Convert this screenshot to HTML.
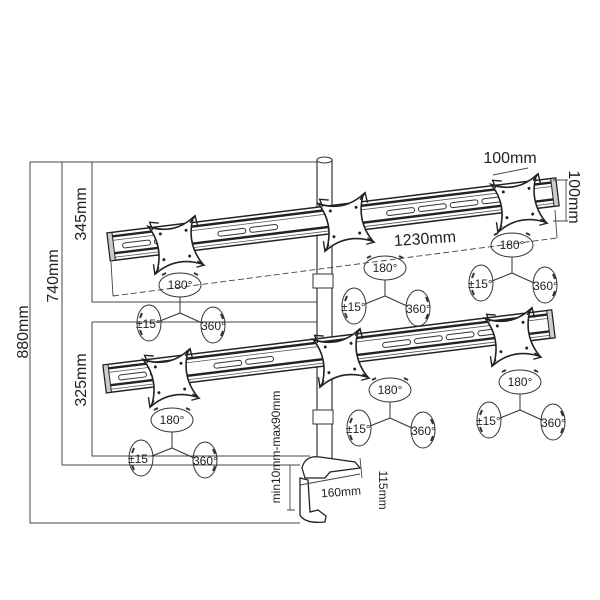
<!DOCTYPE html>
<html><head><meta charset="utf-8"><style>
html,body{margin:0;padding:0;background:#fff;}
svg{display:block;font-family:"Liberation Sans",sans-serif;}
</style></head><body>
<svg width="600" height="600" viewBox="0 0 600 600" xmlns="http://www.w3.org/2000/svg">
<defs>
 <g id="bar">
  <rect x="0" y="0" width="452" height="28" fill="#fff" stroke="#222" stroke-width="1.5"/>
  <line x1="0" y1="4" x2="452" y2="4" stroke="#222" stroke-width="2.4"/>
  <line x1="0" y1="8" x2="452" y2="8" stroke="#555" stroke-width="0.8"/>
  <line x1="0" y1="21" x2="452" y2="21" stroke="#222" stroke-width="2.4"/>
  <line x1="0" y1="25" x2="452" y2="25" stroke="#555" stroke-width="0.8"/>
  <rect x="0" y="0" width="5" height="28" fill="#ccc" stroke="#222"/>
  <rect x="447" y="0" width="5" height="28" fill="#ccc" stroke="#222"/>
  <g fill="none" stroke="#333" stroke-width="1">
   <rect x="14" y="12" width="28" height="5" rx="2.5"/><rect x="46" y="12" width="28" height="5" rx="2.5"/>
   <rect x="110" y="12" width="28" height="5" rx="2.5"/><rect x="142" y="12" width="28" height="5" rx="2.5"/>
   <rect x="280" y="12" width="28" height="5" rx="2.5"/><rect x="312" y="12" width="28" height="5" rx="2.5"/>
   <rect x="344" y="12" width="28" height="5" rx="2.5"/><rect x="376" y="12" width="28" height="5" rx="2.5"/>
  </g>
 </g>
 <g id="plate">
  <path d="M-24,-22 Q0,-10 22,-25 Q11,0 25,23 Q0,11 -22,25 Q-11,0 -24,-22 Z" fill="#fff" stroke="#222" stroke-width="1.6"/>
  <path d="M-20,-18 L-22,-26 L-13,-24 M18,-20 L24,-26 L25,-16 M20,19 L26,24 L18,25 M-19,20 L-24,26 L-24,16" fill="none" stroke="#222" stroke-width="1.4"/>
  <circle cx="-13" cy="-13" r="1.5" fill="#222"/><circle cx="13" cy="-13" r="1.5" fill="#222"/>
  <circle cx="13" cy="13" r="1.5" fill="#222"/><circle cx="-13" cy="13" r="1.5" fill="#222"/>
 </g>
 <g id="rot" fill="none" stroke="#333" stroke-width="1">
  <ellipse cx="0" cy="0" rx="21" ry="12"/>
  <path d="M-14,-12 l-4,2 M14,-12 l4,2" stroke-width="2"/>
  <path d="M0,12 L0,28 L-20,36 M0,28 L22,38"/>
  <ellipse cx="-31" cy="38" rx="12" ry="18"/>
  <ellipse cx="33" cy="40" rx="12" ry="18"/>
  <path d="M-38,28 l-2,5 M-38,50 l-2,-5 M41,29 l2,5 M41,51 l2,-5" stroke-width="2"/>
 </g>
</defs>

<g fill="none" stroke="#444" stroke-width="1">
 <path d="M30,162 L320,162 M30,162 L30,523 L300,523"/>
 <path d="M62,162 L62,465 L300,465"/>
 <path d="M92,162 L92,302 L318,302"/>
 <path d="M92,322 L318,322 M92,322 L92,456 L310,456"/>
</g>

<rect x="317" y="160" width="15" height="300" fill="#fff" stroke="#333" stroke-width="1.2"/>
<ellipse cx="324.5" cy="160" rx="7.5" ry="3" fill="#fff" stroke="#333"/>
<rect x="313" y="274" width="20" height="14" fill="#fff" stroke="#333"/>
<rect x="313" y="410" width="20" height="14" fill="#fff" stroke="#333"/>

<g transform="translate(107,233) rotate(-7)"><use href="#bar"/></g>
<g transform="translate(103,365) rotate(-7)"><use href="#bar"/></g>

<g transform="translate(175,245) rotate(-8)"><use href="#plate"/></g>
<g transform="translate(345,222) rotate(-8)"><use href="#plate"/></g>
<g transform="translate(518,203) rotate(-8)"><use href="#plate"/></g>
<g transform="translate(170,378) rotate(-8)"><use href="#plate"/></g>
<g transform="translate(340,358) rotate(-8)"><use href="#plate"/></g>
<g transform="translate(512,337) rotate(-8)"><use href="#plate"/></g>

<g stroke="#444" stroke-width="0.9" fill="none">
 <path d="M111,262 L113,296 M555,210 L557,238"/>
 <path d="M113,296 L557,238" stroke-dasharray="6,3"/>
 <path d="M493,175 L528,168 M553,180 L568,180 M553,221 L568,221 M566,180 L566,221"/>
</g>

<g transform="translate(180,285)"><use href="#rot"/></g>
<g transform="translate(385,268)"><use href="#rot"/></g>
<g transform="translate(512,245)"><use href="#rot"/></g>
<g transform="translate(172,420)"><use href="#rot"/></g>
<g transform="translate(390,390)"><use href="#rot"/></g>
<g transform="translate(520,382)"><use href="#rot"/></g>

<g font-size="12" fill="#222">
 <text x="180" y="289" text-anchor="middle">180°</text><text x="136" y="328">±15°</text><text x="201" y="330">360°</text>
 <text x="385" y="272" text-anchor="middle">180°</text><text x="341" y="311">±15°</text><text x="406" y="313">360°</text>
 <text x="512" y="249" text-anchor="middle">180°</text><text x="468" y="288">±15°</text><text x="533" y="290">360°</text>
 <text x="172" y="424" text-anchor="middle">180°</text><text x="128" y="463">±15</text><text x="193" y="465">360°</text>
 <text x="390" y="394" text-anchor="middle">180°</text><text x="346" y="433">±15°</text><text x="411" y="435">360°</text>
 <text x="520" y="386" text-anchor="middle">180°</text><text x="476" y="425">±15°</text><text x="541" y="427">360°</text>
</g>

<g fill="#fff" stroke="#222" stroke-width="1.3">
 <path d="M302,468 Q305,455 320,457 L355,462 L360,468 L330,472 L325,478 L305,478 Z"/>
 <path d="M300,478 L300,515 Q305,524 325,522 L326,516 L318,510 L310,512 L308,480 Z"/>
</g>
<g stroke="#444" stroke-width="0.9" fill="none">
 <path d="M290,465 L290,510 M287,465 L295,465 M287,510 L295,510"/>
 <path d="M300,485 L360,474 M360,458 L362,478"/>
</g>

<g fill="#222" font-size="16">
 <text transform="translate(28,332) rotate(-90)" text-anchor="middle">880mm</text>
 <text transform="translate(58,276) rotate(-90)" text-anchor="middle">740mm</text>
 <text transform="translate(86,214) rotate(-90)" text-anchor="middle">345mm</text>
 <text transform="translate(86,380) rotate(-90)" text-anchor="middle">325mm</text>
 <text x="425" y="244" text-anchor="middle" transform="rotate(-4 425 240)">1230mm</text>
 <text x="510" y="163" text-anchor="middle">100mm</text>
 <text transform="translate(569,197) rotate(90)" text-anchor="middle">100mm</text>
</g>
<g fill="#222" font-size="12">
 <text transform="translate(379,490) rotate(90)" text-anchor="middle">115mm</text>
 <text x="341" y="496" text-anchor="middle" transform="rotate(-4 341 492)">160mm</text>
 <text transform="translate(280,447) rotate(-90)" text-anchor="middle">min10mm-max90mm</text>
</g>
</svg>
</body></html>
